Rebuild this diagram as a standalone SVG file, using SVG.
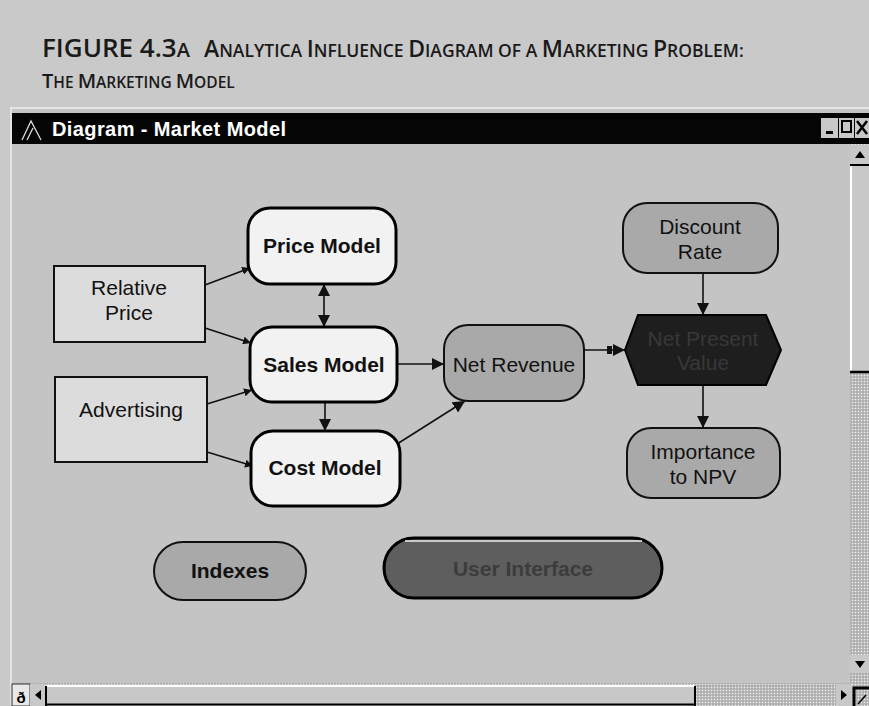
<svg xmlns="http://www.w3.org/2000/svg" width="869" height="706" viewBox="0 0 869 706">
<defs>
<style>
.t{font-family:"Liberation Sans",Arial,sans-serif;font-size:21px;text-anchor:middle;fill:#111}
.b{font-weight:bold}
.cap{font-family:"Open Sans","Liberation Sans",sans-serif;fill:#1a1a1a;font-weight:600}
.model{fill:#f2f2f2;stroke:#000;stroke-width:3}
.var{fill:#dcdcdc;stroke:#111;stroke-width:2}
.obj{fill:#a9a9a9;stroke:#111;stroke-width:2}
.conn line,.conn path{stroke:#111;stroke-width:1.6;fill:none}
</style>
<marker id="ah" viewBox="0 0 10 10" refX="10" refY="5" markerWidth="8" markerHeight="8" orient="auto-start-reverse" markerUnits="userSpaceOnUse">
<path d="M0,0 L10,5 L0,10 z" fill="#111"/>
</marker>
<marker id="ahL" viewBox="0 0 10 10" refX="10" refY="5" markerWidth="12" markerHeight="12" orient="auto-start-reverse" markerUnits="userSpaceOnUse">
<path d="M0,0 L10,5 L0,10 z" fill="#111"/>
</marker>
<pattern id="dots" width="3" height="3" patternUnits="userSpaceOnUse">
<rect width="3" height="3" fill="#bdbdbd"/>
<rect width="1" height="1" fill="#f0f0f0"/>
<rect x="1.5" y="1.5" width="1" height="1" fill="#8a8a8a"/>
</pattern>
</defs>
<!-- page background -->
<rect width="869" height="706" fill="#c9c9c9"/>
<!-- caption -->
<text class="cap" x="42" y="57" font-size="26">FIGURE 4.3<tspan font-size="20">A</tspan><tspan dx="14" font-size="23">A</tspan><tspan font-size="17.5">NALYTICA </tspan><tspan font-size="23">I</tspan><tspan font-size="17.5">NFLUENCE </tspan><tspan font-size="23">D</tspan><tspan font-size="17.5">IAGRAM OF A </tspan><tspan font-size="23">M</tspan><tspan font-size="17.5">ARKETING </tspan><tspan font-size="23">P</tspan><tspan font-size="17.5">ROBLEM:</tspan></text>
<text class="cap" x="42" y="88" font-size="20">T<tspan font-size="15.5">HE </tspan>M<tspan font-size="15.5">ARKETING </tspan>M<tspan font-size="15.5">ODEL</tspan></text>
<!-- window -->
<rect x="10" y="108" width="859" height="598" fill="#c4c4c4"/>
<line x1="10" y1="108" x2="869" y2="108" stroke="#eee" stroke-width="1.5"/>
<line x1="11" y1="108" x2="11" y2="706" stroke="#eee" stroke-width="1.5"/>
<rect x="12" y="113" width="857" height="31" fill="#050505"/>
<path d="M22,140 L31,121 L41,140 M27,140 L33,128" fill="none" stroke="#ddd" stroke-width="1.3"/>
<text x="52" y="136" font-family="Liberation Sans,Arial,sans-serif" font-size="20" font-weight="bold" fill="#fff" letter-spacing="0.4">Diagram - Market Model</text>
<rect x="821" y="118" width="17" height="20" fill="#c8c8c8"/>
<rect x="826" y="131" width="7" height="3" fill="#000"/>
<rect x="839" y="118" width="15" height="20" fill="#c8c8c8"/>
<rect x="842" y="121" width="9" height="11" fill="none" stroke="#000" stroke-width="2"/>
<rect x="855" y="118" width="14" height="20" fill="#c8c8c8"/>
<path d="M857,121 L867,134 M867,121 L857,134" stroke="#000" stroke-width="2.5"/>
<!-- right scrollbar -->
<rect x="850" y="144" width="19" height="539" fill="url(#dots)"/>
<rect x="850" y="166" width="19" height="206" fill="#c8c8c8"/>
<line x1="851" y1="166" x2="851" y2="372" stroke="#fff" stroke-width="2"/>
<line x1="850" y1="372" x2="869" y2="372" stroke="#000" stroke-width="2.5"/>
<rect x="850" y="145" width="19" height="21" fill="#c8c8c8"/>
<path d="M855,158 L860,151 L865,158 z" fill="#000"/>
<line x1="850" y1="165" x2="869" y2="165" stroke="#000" stroke-width="2"/>
<rect x="850" y="655" width="19" height="18" fill="#c8c8c8"/>
<path d="M855,661 L860,668 L865,661 z" fill="#000"/>
<!-- bottom scrollbar -->
<rect x="12" y="683" width="857" height="23" fill="url(#dots)"/>
<rect x="12" y="684" width="18" height="22" fill="#e8e8e8" stroke="#333" stroke-width="1"/>
<text x="21" y="703" font-family="Liberation Sans,Arial,sans-serif" font-size="15" font-weight="bold" text-anchor="middle" fill="#000">ð</text>
<rect x="30" y="684" width="16" height="22" fill="#c8c8c8"/>
<path d="M41,690 L35,695 L41,700 z" fill="#000"/>
<rect x="46" y="685" width="649" height="21" fill="#c8c8c8"/>
<line x1="46" y1="686" x2="695" y2="686" stroke="#fff" stroke-width="2"/>
<line x1="46" y1="686" x2="46" y2="706" stroke="#000" stroke-width="2"/>
<line x1="695" y1="686" x2="695" y2="706" stroke="#000" stroke-width="2"/>
<line x1="46" y1="704.5" x2="695" y2="704.5" stroke="#000" stroke-width="2"/>
<rect x="836" y="684" width="16" height="22" fill="#c8c8c8"/>
<path d="M841,690 L847,695 L841,700 z" fill="#000"/>
<path d="M854,706 L854,688 L869,688" fill="none" stroke="#000" stroke-width="3"/>
<path d="M858,704 L866,695" stroke="#000" stroke-width="1.5"/>
<!-- connectors -->
<g id="connectors" class="conn">
<line x1="205" y1="285" x2="250" y2="268" marker-end="url(#ah)"/>
<line x1="205" y1="328" x2="251" y2="343" marker-end="url(#ah)"/>
<line x1="207" y1="404" x2="252" y2="390" marker-end="url(#ah)"/>
<line x1="207" y1="452" x2="253" y2="466" marker-end="url(#ah)"/>
<line x1="324" y1="284" x2="324" y2="327" marker-start="url(#ahL)" marker-end="url(#ahL)"/>
<line x1="325" y1="402" x2="325" y2="431" marker-end="url(#ahL)"/>
<line x1="397" y1="364" x2="444" y2="364" marker-end="url(#ahL)"/>
<line x1="386" y1="451" x2="465" y2="401" marker-end="url(#ahL)"/>
<line x1="584" y1="350" x2="625" y2="350" marker-end="url(#ahL)"/>
<rect x="607" y="346" width="5" height="8" fill="#111"/>
<line x1="703" y1="273" x2="703" y2="315" marker-end="url(#ahL)"/>
<line x1="703" y1="385" x2="703" y2="428" marker-end="url(#ahL)"/>
</g>
<!-- nodes -->
<g id="price-model"><rect class="model" x="248" y="208" width="148" height="76" rx="22"/><text class="t b" x="322" y="253">Price Model</text></g>
<g id="relative-price"><rect class="var" x="54" y="266" width="151" height="76"/><text class="t" x="129" y="295">Relative</text><text class="t" x="129" y="320">Price</text></g>
<g id="sales-model"><rect class="model" x="250" y="327" width="147" height="75" rx="22"/><text class="t b" x="324" y="372">Sales Model</text></g>
<g id="advertising"><rect class="var" x="55" y="377" width="152" height="85"/><text class="t" x="131" y="417">Advertising</text></g>
<g id="cost-model"><rect class="model" x="251" y="431" width="149" height="75" rx="22"/><text class="t b" x="325" y="475">Cost Model</text></g>
<g id="net-revenue"><rect class="obj" x="444" y="325" width="140" height="76" rx="24"/><text class="t" x="514" y="372">Net Revenue</text></g>
<g id="discount-rate"><rect class="obj" x="623" y="203" width="155" height="70" rx="24"/><text class="t" x="700" y="234">Discount</text><text class="t" x="700" y="259">Rate</text></g>
<g id="net-present-value"><path d="M638,315 L766,315 L781,350 L766,385 L638,385 L625,350 z" fill="#1e1e1e" stroke="#000" stroke-width="2"/><text class="t" x="703" y="346" style="fill:#383838">Net Present</text><text class="t" x="703" y="370" style="fill:#383838">Value</text></g>
<g id="importance"><rect class="obj" x="627" y="428" width="153" height="70" rx="24"/><text class="t" x="703" y="459">Importance</text><text class="t" x="703" y="484">to NPV</text></g>
<g id="indexes"><rect class="obj" x="154" y="542" width="152" height="58" rx="29" stroke-width="3"/><text class="t b" x="230" y="578">Indexes</text></g>
<g id="user-interface"><rect x="384" y="538" width="278" height="60" rx="30" fill="#5e5e5e" stroke="#000" stroke-width="3"/><line x1="405" y1="541" x2="642" y2="541" stroke="#eee" stroke-width="1.5"/><text class="t b" x="523" y="576" style="fill:#3c3c3c">User Interface</text></g>
</svg>
